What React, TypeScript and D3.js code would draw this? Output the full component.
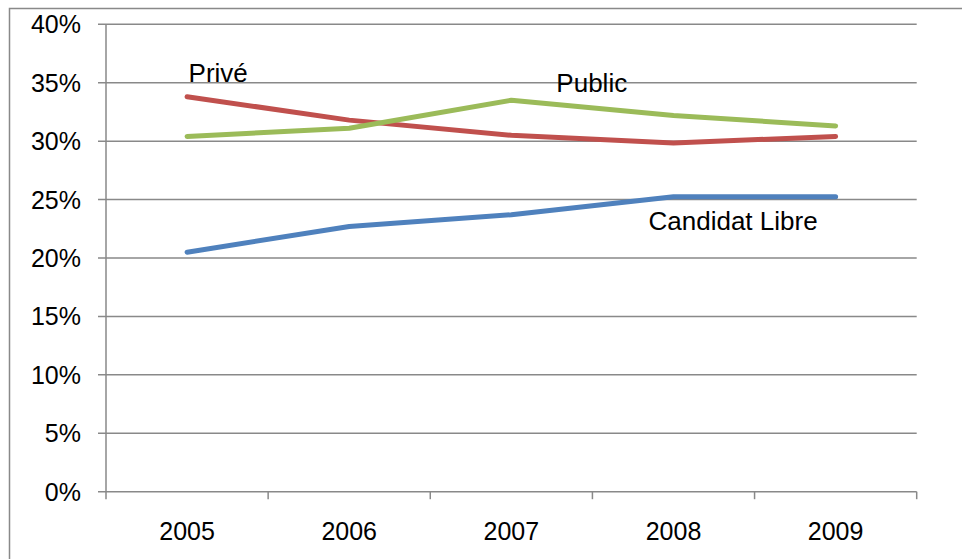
import { useEffect, useRef } from "react";
import * as d3 from "d3";

const YEARS = ["2005", "2006", "2007", "2008", "2009"];
const PRIVE = [0.338, 0.318, 0.305, 0.2985, 0.304];
const PUBLIC = [0.304, 0.311, 0.335, 0.322, 0.313];
const CANDIDAT_LIBRE = [0.205, 0.227, 0.237, 0.2525, 0.2525];
const Y_TICKS = [0, 0.05, 0.1, 0.15, 0.2, 0.25, 0.3, 0.35, 0.4];

const SERIES = [
  { name: "Candidat Libre", values: CANDIDAT_LIBRE, color: "#4F81BD" },
  { name: "Privé", values: PRIVE, color: "#C0504D" },
  { name: "Public", values: PUBLIC, color: "#9BBB59" },
];

const WIDTH = 962;
const HEIGHT = 559;
const FONT = "'Liberation Sans', Arial, sans-serif";
const GRID = "#898989";

export default function App() {
  const svgRef = useRef<SVGSVGElement>(null);

  useEffect(() => {
    const svgEl = svgRef.current;
    if (!svgEl) return;
    const svg = d3.select(svgEl);
    svg.selectAll("*").remove();

    const left = 106;
    const right = 916.7;
    const top = 24.3;
    const bottom = 491.7;

    const x = d3.scaleBand<string>().domain(YEARS).range([left, right]);
    const y = d3.scaleLinear().domain([0, 0.4]).range([bottom, top]);
    const cx = (yr: string) => (x(yr) as number) + x.bandwidth() / 2;

    // outer chart frame (cut off by the picture edges)
    svg
      .append("rect")
      .attr("x", 9.5)
      .attr("y", 8.5)
      .attr("width", WIDTH + 20)
      .attr("height", HEIGHT + 20)
      .attr("fill", "none")
      .attr("stroke", GRID)
      .attr("stroke-width", 1.5);

    // gridlines + y ticks
    svg
      .selectAll("line.grid")
      .data(Y_TICKS)
      .join("line")
      .attr("class", "grid")
      .attr("x1", left - 8)
      .attr("x2", right)
      .attr("y1", (d) => y(d))
      .attr("y2", (d) => y(d))
      .attr("stroke", GRID)
      .attr("stroke-width", 1.5);

    // y axis line
    svg
      .append("line")
      .attr("x1", left)
      .attr("x2", left)
      .attr("y1", top)
      .attr("y2", bottom)
      .attr("stroke", GRID)
      .attr("stroke-width", 1.5);

    // x ticks at band edges
    const edges = YEARS.map((yr) => x(yr) as number).concat([right]);
    svg
      .selectAll("line.xtick")
      .data(edges)
      .join("line")
      .attr("class", "xtick")
      .attr("x1", (d) => d)
      .attr("x2", (d) => d)
      .attr("y1", bottom)
      .attr("y2", bottom + 7.5)
      .attr("stroke", GRID)
      .attr("stroke-width", 1.5);

    svg
      .selectAll("text.ylab")
      .data(Y_TICKS)
      .join("text")
      .attr("class", "ylab")
      .attr("x", 81)
      .attr("y", (d) => y(d) + 9)
      .attr("text-anchor", "end")
      .attr("font-family", FONT)
      .attr("font-size", 25)
      .attr("fill", "#000")
      .text((d) => d3.format(".0%")(d));

    svg
      .selectAll("text.xlab")
      .data(YEARS)
      .join("text")
      .attr("class", "xlab")
      .attr("x", (d) => cx(d))
      .attr("y", 539.5)
      .attr("text-anchor", "middle")
      .attr("font-family", FONT)
      .attr("font-size", 25)
      .attr("fill", "#000")
      .text((d) => d);

    const line = d3
      .line<number>()
      .x((_d, i) => cx(YEARS[i]))
      .y((d) => y(d));

    svg
      .selectAll("path.series")
      .data(SERIES)
      .join("path")
      .attr("class", "series")
      .attr("d", (s) => line(s.values))
      .attr("fill", "none")
      .attr("stroke", (s) => s.color)
      .attr("stroke-width", 5)
      .attr("stroke-linecap", "round")
      .attr("stroke-linejoin", "round");

    // series labels, placed by hand like the original
    const labels = [
      { text: "Privé", x: cx("2005") + 1.5, y: 82 },
      { text: "Public", x: cx("2007") + 45, y: 92 },
      { text: "Candidat Libre", x: cx("2008") - 25, y: 230 },
    ];
    svg
      .selectAll("text.slab")
      .data(labels)
      .join("text")
      .attr("class", "slab")
      .attr("x", (d) => d.x)
      .attr("y", (d) => d.y)
      .attr("font-family", FONT)
      .attr("font-size", 26)
      .attr("fill", "#000")
      .text((d) => d.text);
  }, []);

  return (
    <div style={{ position: "fixed", left: 0, top: 0, width: WIDTH, height: HEIGHT, background: "#fff" }}>
      <svg ref={svgRef} width={WIDTH} height={HEIGHT} style={{ display: "block" }} />
    </div>
  );
}
